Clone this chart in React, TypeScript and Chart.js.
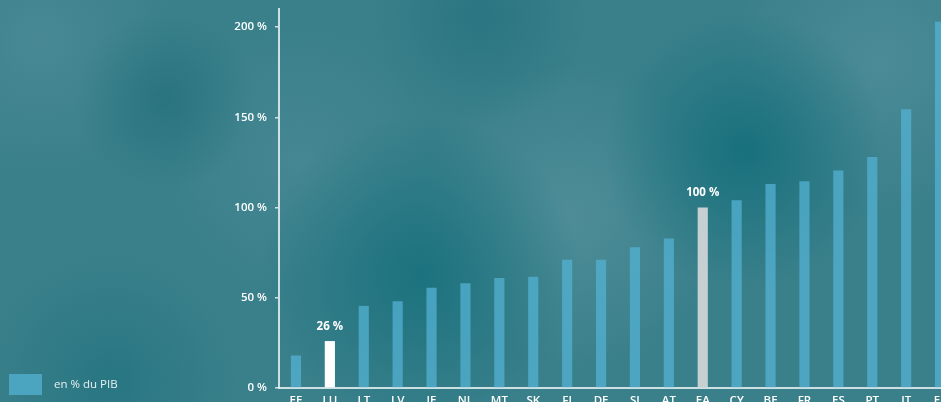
import React, { useEffect, useRef } from "react";
import { Chart, registerables } from "chart.js";

Chart.register(...registerables);

const categories = ["EE", "LU", "LT", "LV", "IE", "NL", "MT", "SK", "FI", "DE", "SI", "AT", "EA", "CY", "BE", "FR", "ES", "PT", "IT", "EL"];
const debtValues = [18, 26, 45.5, 48, 55.5, 58, 61, 61.7, 71, 71, 78, 82.8, 100, 104, 113, 114.5, 120.5, 128, 154.4, 203];
const labelledCategories = ["LU", "EA"];
const yTickValues = [0, 50, 100, 150, 200];
const seriesLabel = "en % du PIB";

const FONT = "'Open Sans', 'DejaVu Sans', sans-serif";
const BAR_COLOR = "rgba(84,178,212,0.74)";
const AXIS_COLOR = "rgba(232,242,243,0.85)";

function barColor(cat: string) {
  if (cat === "LU") return "#ffffff";
  if (cat === "EA") return "#c6d0d3";
  return BAR_COLOR;
}

const valueLabelPlugin = {
  id: "valueLabels",
  afterDatasetsDraw(chart: any) {
    const ctx = chart.ctx;
    const meta = chart.getDatasetMeta(0);
    ctx.save();
    ctx.fillStyle = "#ffffff";
    ctx.font = `700 11.5px ${FONT}`;
    ctx.textAlign = "center";
    ctx.textBaseline = "bottom";
    categories.forEach((cat, i) => {
      if (!labelledCategories.includes(cat)) return;
      const el = meta.data[i];
      ctx.fillText(`${Math.round(debtValues[i])} %`, el.x, el.y - 9);
    });
    ctx.restore();
  },
};

export default function App() {
  const ref = useRef<HTMLCanvasElement | null>(null);

  useEffect(() => {
    if (!ref.current) return;
    const chart = new Chart(ref.current, {
      type: "bar",
      data: {
        labels: categories,
        datasets: [
          {
            label: seriesLabel,
            data: debtValues,
            backgroundColor: categories.map(barColor),
            borderWidth: 0,
            barPercentage: 0.6,
            categoryPercentage: 0.5,
          },
        ],
      },
      options: {
        responsive: false,
        animation: false,
        layout: { padding: { top: 9, right: 3, left: 0, bottom: 0 } },
        plugins: { legend: { display: false }, tooltip: { enabled: false } },
        scales: {
          x: {
            grid: { display: false, drawTicks: false },
            border: { display: true, color: AXIS_COLOR, width: 2 },
            ticks: { color: "#ffffff", font: { family: FONT, size: 11.5, weight: "600" }, padding: 6, maxRotation: 0, autoSkip: false },
            afterFit: (s: any) => { s.height = 32; },
          },
          y: {
            min: 0,
            max: 210,
            afterBuildTicks: (axis: any) => {
              axis.ticks = yTickValues.map((v) => ({ value: v }));
            },
            grid: { display: true, drawOnChartArea: false, drawTicks: true, tickLength: 4, color: AXIS_COLOR, lineWidth: 1.5 },
            border: { display: true, color: AXIS_COLOR, width: 2 },
            ticks: {
              color: "#ffffff",
              font: { family: FONT, size: 11.5, weight: "600" },
              padding: 8,
              callback: (v: any) => `${v} %`,
            },
            afterFit: (s: any) => {
              s.width = 279;
              s.paddingTop = 0;
              s.paddingBottom = 0;
            },
          },
        },
      },
      plugins: [valueLabelPlugin],
    });
    return () => chart.destroy();
  }, []);

  const bg = [
    "radial-gradient(circle at 745px 150px, rgba(22,112,124,0.95) 0, rgba(22,112,124,0) 140px)",
    "radial-gradient(circle at 420px 275px, rgba(22,112,124,0.85) 0, rgba(22,112,124,0) 160px)",
    "radial-gradient(circle at 165px 100px, rgba(30,108,120,0.6) 0, rgba(30,108,120,0) 90px)",
    "radial-gradient(circle at 480px 15px, rgba(30,110,122,0.6) 0, rgba(30,110,122,0) 110px)",
    "radial-gradient(circle at 110px 380px, rgba(28,112,124,0.6) 0, rgba(28,112,124,0) 130px)",
    "radial-gradient(circle at 570px 215px, rgba(92,150,160,0.6) 0, rgba(92,150,160,0) 150px)",
    "radial-gradient(circle at 880px 60px, rgba(86,146,158,0.6) 0, rgba(86,146,158,0) 150px)",
    "radial-gradient(circle at 40px 40px, rgba(86,146,158,0.5) 0, rgba(86,146,158,0) 130px)",
    "radial-gradient(circle at 300px 160px, rgba(86,146,158,0.4) 0, rgba(86,146,158,0) 130px)",
    "#3a808b",
  ].join(",");

  return (
    <div style={{ position: "fixed", left: 0, top: 0, width: 941, height: 402, overflow: "hidden", background: bg }}>
      <canvas ref={ref} width={960} height={420} style={{ position: "absolute", left: 0, top: 0, width: 960, height: 420 }} />
      <div style={{ position: "absolute", left: 9, top: 374, width: 33, height: 21, background: BAR_COLOR }} />
      <div
        style={{
          position: "absolute",
          left: 54,
          top: 376,
          height: 16,
          lineHeight: "16px",
          fontFamily: FONT,
          fontSize: 11.5,
          fontWeight: 500,
          color: "#e6f1f3",
          whiteSpace: "nowrap",
        }}
      >
        {seriesLabel}
      </div>
    </div>
  );
}
